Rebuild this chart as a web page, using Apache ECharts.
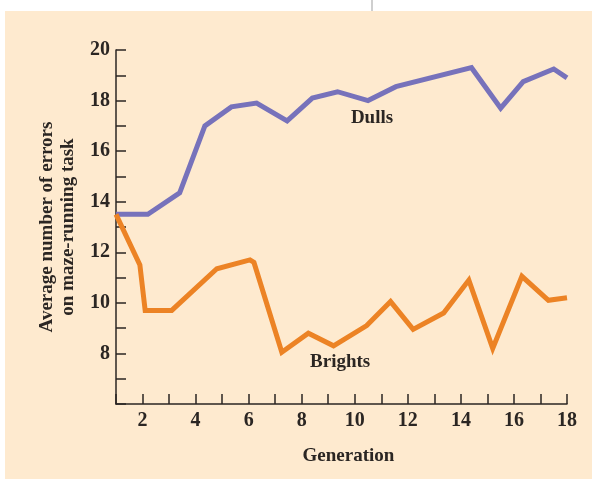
<!DOCTYPE html>
<html>
<head>
<meta charset="utf-8">
<script src="https://cdn.jsdelivr.net/npm/echarts@6/dist/echarts.min.js"></script>
<style>
  html, body { margin: 0; padding: 0; background: #ffffff; }
  #chart-container { width: 592px; height: 481px; }
</style>
</head>
<body>
<div id="chart-container"></div>
<script>
// generation positions and error averages
var dullsGen = [1, 2.2, 3.4, 4.35, 5.35, 6.3, 7.45, 8.4, 9.35, 10.5, 11.55, 14.4, 15.5, 16.35, 17.5, 18];
var dullsErr = [13.5, 13.5, 14.35, 17.0, 17.75, 17.9, 17.2, 18.1, 18.35, 18.0, 18.55, 19.3, 17.7, 18.75, 19.25, 18.9];

var brightsGen = [1, 1.9, 2.1, 3.1, 4.8, 6.05, 6.2, 7.25, 8.25, 9.2, 10.45, 11.35, 12.2, 13.35, 14.3, 15.2, 16.3, 17.3, 18];
var brightsErr = [13.5, 11.5, 9.7, 9.7, 11.35, 11.7, 11.6, 8.05, 8.8, 8.3, 9.1, 10.05, 8.95, 9.6, 10.9, 8.2, 11.05, 10.1, 10.2];

var xTicks = [2, 4, 6, 8, 10, 12, 14, 16, 18];
var yTicks = [8, 10, 12, 14, 16, 18, 20];

// where the series names sit (data coords)
var dullsLabelAt = [10.65, 17.3];
var brightsLabelAt = [9.45, 7.65];

function pairs(xs, ys) {
    var out = [];
    for (var i = 0; i < xs.length; i++) out.push([xs[i], ys[i]]);
    return out;
}

var serif = 'Liberation Serif';
var ink = '#2b2623';

function nameMark(text, at) {
    return {
        symbol: 'circle',
        symbolSize: 1,
        itemStyle: { color: 'rgba(0,0,0,0)' },
        data: [{ coord: at, value: 1 }],
        label: {
            show: true, position: 'inside', formatter: text,
            fontFamily: serif, fontWeight: 'bold', fontSize: 19, color: ink
        }
    };
}

var chart = echarts.init(document.getElementById('chart-container'));
var option = {
    animation: false,
    backgroundColor: '#ffffff',
    graphic: [
        {
            type: 'rect',
            z: -10,
            shape: { x: 5, y: 11, width: 587, height: 468 },
            style: { fill: '#feeacf' }
        },
        {
            type: 'rect',
            z: -10,
            shape: { x: 371, y: 0, width: 2, height: 11 },
            style: { fill: '#cfcfcf' }
        }
    ],
    grid: { left: 116, right: 25, top: 50, bottom: 77 },
    xAxis: {
        type: 'value',
        min: 1,
        max: 18,
        interval: 1,
        name: 'Generation',
        nameLocation: 'middle',
        nameGap: 43,
        nameTextStyle: { fontFamily: serif, fontWeight: 'bold', fontSize: 19, color: ink, padding: [0, 0, 0, 14] },
        axisLine: { lineStyle: { color: ink, width: 1.5 } },
        axisTick: { inside: true, length: 10, lineStyle: { color: ink, width: 1.5 } },
        splitLine: { show: false },
        axisLabel: {
            margin: 7,
            fontFamily: serif, fontWeight: 'bold', fontSize: 20, color: ink,
            formatter: function (v) { return xTicks.indexOf(v) >= 0 ? String(v) : ''; }
        }
    },
    yAxis: {
        type: 'value',
        min: 6,
        max: 20,
        interval: 1,
        name: 'Average number of errors\non maze-running task',
        nameLocation: 'middle',
        nameGap: 37,
        nameTextStyle: { fontFamily: serif, fontWeight: 'bold', fontSize: 19, lineHeight: 21, color: ink },
        axisLine: { lineStyle: { color: ink, width: 1.5 } },
        axisTick: { inside: true, length: 10, lineStyle: { color: ink, width: 1.5 } },
        splitLine: { show: false },
        axisLabel: {
            margin: 6,
            fontFamily: serif, fontWeight: 'bold', fontSize: 20, color: ink,
            formatter: function (v) { return yTicks.indexOf(v) >= 0 ? String(v) : ''; }
        }
    },
    series: [
        {
            name: 'Dulls',
            type: 'line',
            data: pairs(dullsGen, dullsErr),
            showSymbol: false,
            lineStyle: { color: '#7772bb', width: 5, join: 'miter' },
            markPoint: nameMark('Dulls', dullsLabelAt)
        },
        {
            name: 'Brights',
            type: 'line',
            data: pairs(brightsGen, brightsErr),
            showSymbol: false,
            lineStyle: { color: '#ec8325', width: 5, join: 'miter' },
            markPoint: nameMark('Brights', brightsLabelAt)
        }
    ]
};
chart.setOption(option);
window.addEventListener('resize', chart.resize);
</script>
</body>
</html>
